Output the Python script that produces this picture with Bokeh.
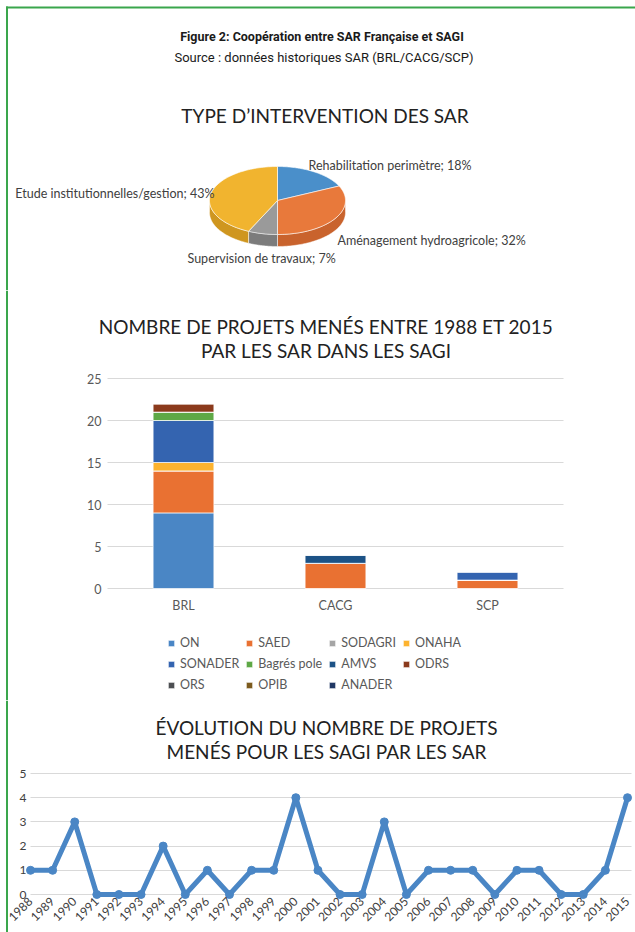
import numpy as np
from bokeh.plotting import figure
from bokeh.models import (Range1d, Label, Legend, LegendItem, FixedTicker, BoxAnnotation,
                          ColumnDataSource)
from bokeh.layouts import column
from bokeh.embed import file_html
from bokeh.resources import INLINE

# ---------------- data ----------------
pie_names = ["Rehabilitation perimètre", "Aménagement hydroagricole",
             "Supervision de travaux", "Etude institutionnelles/gestion"]
pie_pcts = [18, 32, 7, 43]

sar = ["BRL", "CACG", "SCP"]
sagi = ["ON", "SAED", "SODAGRI", "ONAHA", "SONADER", "Bagrés pole",
        "AMVS", "ODRS", "ORS", "OPIB", "ANADER"]
on = [9, 0, 0]
saed = [5, 3, 1]
sodagri = [0, 0, 0]
onaha = [1, 0, 0]
sonader = [5, 0, 1]
bagres = [1, 0, 0]
amvs = [0, 1, 0]
odrs = [1, 0, 0]
ors = [0, 0, 0]
opib = [0, 0, 0]
anader = [0, 0, 0]
bar_ticks = [0, 5, 10, 15, 20, 25]

years = [1988, 1989, 1990, 1991, 1992, 1993, 1994, 1995, 1996, 1997,
         1998, 1999, 2000, 2001, 2002, 2003, 2004, 2005, 2006, 2007,
         2008, 2009, 2010, 2011, 2012, 2013, 2014, 2015]
projects = [1, 1, 3, 0, 0, 0, 2, 0, 1, 0,
            1, 1, 4, 1, 0, 0, 3, 0, 1, 1,
            1, 0, 1, 1, 0, 0, 1, 4]
line_ticks = [0, 1, 2, 3, 4, 5]

# ---------------- styles ----------------
pie_colors = ["#4a8fca", "#e8793b", "#9a9a9a", "#f1b42f"]
pie_side = ["#3b74a6", "#c9632d", "#7c7c7c", "#cf961f"]
sagi_colors = ["#4a86c5", "#e97132", "#a5a5a5", "#fdb32f", "#3464b0", "#5ea846",
               "#1c5286", "#8b3a1c", "#4d4f52", "#7c5b1e", "#203864"]
TITLE_FONT = "Lato"
BODY_FONT = "Lato"
HEAD_FONT = "Roboto"
GREEN = "#3aa64c"
W = 635
BX0, BX1 = 5.5, 7.5      # left green border (px)


def lab(fig, x, y, text, size, align="center", font=BODY_FONT, color="#404040", style="normal"):
    fig.add_layout(Label(x=x, y=y, x_units="screen", y_units="screen", text=text,
                         text_font=font, text_font_size=size, text_align=align,
                         text_baseline="middle", text_color=color, text_font_style=style))


def green_box(fig, left, right, bottom, top):
    fig.add_layout(BoxAnnotation(left=left, right=right, bottom=bottom, top=top,
                                 left_units="screen", right_units="screen",
                                 bottom_units="screen", top_units="screen",
                                 fill_color=GREEN, fill_alpha=1, line_alpha=0,
                                 level="overlay"))


# ================= Figure A : header + pie =================
HA = 290
s = 68.0                 # px per unit radius
cx, cy = 277, 200        # pie centre in canvas px (from top-left)
ry = 0.5
depth = 12 / s
pa = figure(width=W, height=HA, output_backend="svg", toolbar_location=None,
            x_range=Range1d(-cx / s, (W - cx) / s),
            y_range=Range1d(-(HA - cy) / s, cy / s),
            x_axis_location=None, y_axis_location=None, min_border=0)
pa.grid.visible = False
pa.outline_line_color = None

cum = np.concatenate([[0], np.cumsum(pie_pcts)]) / np.sum(pie_pcts)
t_start = np.pi / 2 - 2 * np.pi * cum[:-1]
t_end = np.pi / 2 - 2 * np.pi * cum[1:]

side_xs, side_ys, side_c = [], [], []
for i in range(len(pie_pcts)):
    a = min(t_start[i], 0.0)
    b = max(t_end[i], -np.pi)
    if a > b:
        t = np.linspace(a, b, 60)
        xs = np.concatenate([np.cos(t), np.cos(t[::-1])])
        ys = np.concatenate([ry * np.sin(t), ry * np.sin(t[::-1]) - depth])
        side_xs.append(list(xs)); side_ys.append(list(ys)); side_c.append(pie_side[i])
pa.patches(side_xs, side_ys, fill_color=side_c, line_color="white", line_width=0.5)

top_xs, top_ys = [], []
for i in range(len(pie_pcts)):
    t = np.linspace(t_start[i], t_end[i], 80)
    top_xs.append([0.0] + list(np.cos(t)))
    top_ys.append([0.0] + list(ry * np.sin(t)))
pa.patches(top_xs, top_ys, fill_color=pie_colors, line_color="white", line_width=0.6)

lab(pa, 321.5, HA - 36, "Figure 2: Coopération entre SAR Française et SAGI", "12.5px",
    font=HEAD_FONT, color="#1a1a1a", style="bold")
lab(pa, 323.5, HA - 57, "Source : données historiques SAR (BRL/CACG/SCP)", "13px",
    font=HEAD_FONT, color="#1a1a1a")
lab(pa, 324.5, HA - 115, "TYPE D’INTERVENTION DES SAR", "19px", font=TITLE_FONT, color="#222222")

pie_text = [f"{n}; {p}%" for n, p in zip(pie_names, pie_pcts)]
pie_lab_pos = [(308, HA - 165, "left"), (337, HA - 240, "left"),
               (187, HA - 258, "left"), (214, HA - 193, "right")]
for txt, (x, y, al) in zip(pie_text, pie_lab_pos):
    lab(pa, x, y, txt, "12.5px", align=al)

green_box(pa, BX0, W, HA - 8, HA - 6)      # top border
green_box(pa, BX0, BX1, 0, HA - 6)         # left border

# ================= Figure B : stacked bars =================
HB = 410
bx0, bx1 = 107, 563          # plot area (canvas px)
by_top, by_zero = 88, 298
ppu_x = (bx1 - bx0) / len(sar)
ppu_y = (by_zero - by_top) / 25
bar_x = [i + 0.5 for i in range(len(sar))]
src = ColumnDataSource(dict(x=bar_x, **{"ON": on, "SAED": saed, "SODAGRI": sodagri,
                                        "ONAHA": onaha, "SONADER": sonader,
                                        "Bagrés pole": bagres, "AMVS": amvs,
                                        "ODRS": odrs, "ORS": ors, "OPIB": opib,
                                        "ANADER": anader}))
pb = figure(width=W, height=HB, output_backend="svg", toolbar_location=None,
            x_range=Range1d(-bx0 / ppu_x, len(sar) + (W - bx1) / ppu_x),
            y_range=Range1d(-(HB - by_zero) / ppu_y, 25 + by_top / ppu_y),
            min_border=0)
rs = pb.vbar_stack(sagi, x="x", width=0.4, source=src, color=sagi_colors,
                   line_color="white", line_width=0.7)
pb.outline_line_color = None
pb.xgrid.visible = False
pb.ygrid.grid_line_color = "#d9d9d9"
pb.ygrid.grid_line_width = 1
pb.ygrid.cross_bounds = (0, len(sar))
pb.yaxis.ticker = FixedTicker(ticks=bar_ticks)
pb.yaxis.bounds = (0, 25)
pb.xaxis.ticker = FixedTicker(ticks=bar_x)
pb.xaxis.major_label_overrides = {xv: name for xv, name in zip(bar_x, sar)}
pb.yaxis.fixed_location = 0
pb.xaxis.fixed_location = 0
for ax in (pb.xaxis, pb.yaxis):
    ax.axis_line_color = None
    ax.major_tick_line_color = None
    ax.minor_tick_line_color = None
    ax.major_tick_out = 0
    ax.major_label_text_font = BODY_FONT
    ax.major_label_text_font_size = "12.5px"
    ax.major_label_text_color = "#595959"
pb.yaxis.major_label_standoff = 6
pb.xaxis.major_label_standoff = 9

lab(pb, 325.5, HB - 36, "NOMBRE DE PROJETS MENÉS ENTRE 1988 ET 2015", "19px",
    font=TITLE_FONT, color="#222222")
lab(pb, 325.5, HB - 60, "PAR LES SAR DANS LES SAGI", "19px", font=TITLE_FONT, color="#222222")

legend = Legend(items=[LegendItem(label=n, renderers=[r]) for n, r in zip(sagi, rs)],
                location=(167, 8), orientation="horizontal", ncols=4,
                padding=0, spacing=6, margin=0, glyph_width=8, glyph_height=8,
                label_height=14, label_standoff=5, label_text_font=BODY_FONT,
                label_text_font_size="12.5px", label_text_color="#595959",
                border_line_color=None, background_fill_alpha=0)
pb.add_layout(legend)
green_box(pb, BX0, BX1, 0, HB)

# ================= Figure C : line =================
HC = 232
cx0, cx1 = 30, 627          # canvas px of first / last year
ppy = (cx1 - cx0) / (years[-1] - years[0])
cy_zero = 194
ppv = 24.2
pc = figure(width=W, height=HC, output_backend="svg", toolbar_location=None,
            x_range=Range1d(years[0] - cx0 / ppy, years[0] + (W - cx0) / ppy),
            y_range=Range1d(-(HC - cy_zero) / ppv, cy_zero / ppv),
            min_border=0)
pc.line(years, projects, line_width=5, color="#4a86c5", line_join="round")
pc.scatter(years, projects, size=8, color="#4a86c5")
pc.outline_line_color = None
pc.xgrid.visible = False
pc.ygrid.grid_line_color = "#d9d9d9"
pc.ygrid.cross_bounds = (years[0], years[-1] + 4 / ppy)
pc.yaxis.ticker = FixedTicker(ticks=line_ticks)
pc.xaxis.ticker = FixedTicker(ticks=years)
pc.xaxis.major_label_orientation = np.pi / 4
pc.yaxis.fixed_location = years[0]
pc.xaxis.fixed_location = 0
for ax in (pc.xaxis, pc.yaxis):
    ax.axis_line_color = None
    ax.major_tick_line_color = None
    ax.minor_tick_line_color = None
    ax.major_tick_out = 0
    ax.major_label_text_font = BODY_FONT
    ax.major_label_text_font_size = "12px"
    ax.major_label_text_color = "#404040"
pc.yaxis.major_label_standoff = 4
pc.xaxis.major_label_standoff = 5

lab(pc, 326, HC - 27, "ÉVOLUTION DU NOMBRE DE PROJETS", "19px", font=TITLE_FONT, color="#222222")
lab(pc, 326, HC - 51, "MENÉS POUR LES SAGI PAR LES SAR", "19px", font=TITLE_FONT, color="#222222")
green_box(pc, BX0, BX1, 0, HC)

layout = column(pa, pb, pc, spacing=0)
open("out.html", "w").write(file_html(layout, INLINE))
